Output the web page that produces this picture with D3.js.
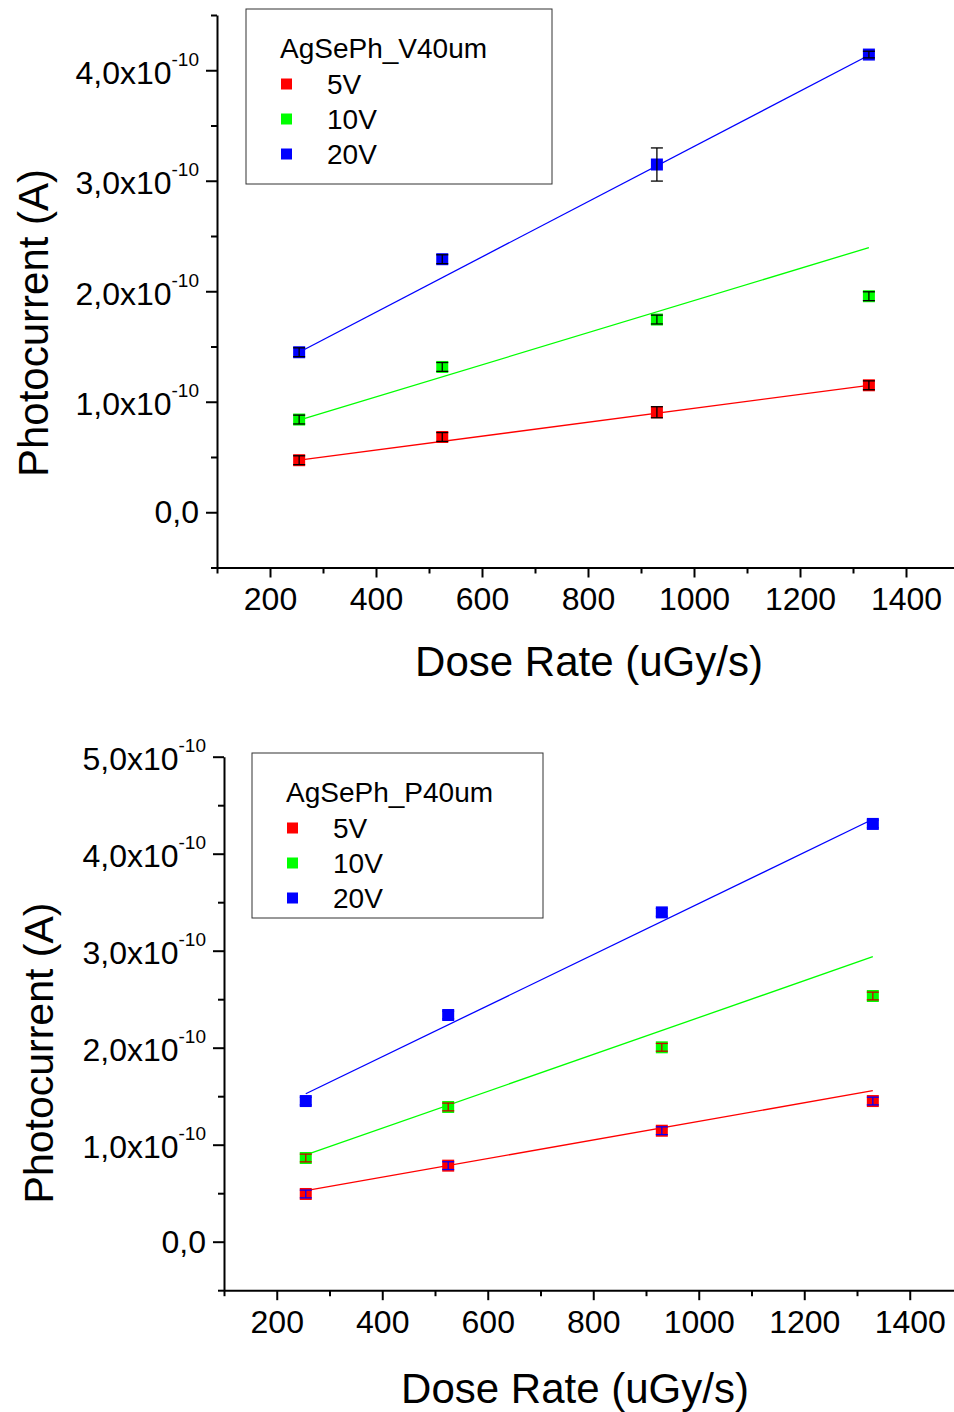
<!DOCTYPE html>
<html>
<head>
<meta charset="utf-8">
<script src="https://cdn.jsdelivr.net/npm/d3@7/dist/d3.min.js"></script>
<style>
  body { margin: 0; background: #fff; }
  svg { display: block; }
  svg text { font-family: "Liberation Sans", Arial, sans-serif; }
</style>
</head>
<body>
<svg id="chart" width="954" height="1412"></svg>
<script>
// dose rates (uGy/s), same for both samples
const doseRate = [255, 525, 930, 1330];
const fitRange = [255, 1330];
const series = ['5V', '10V', '20V'];
const colors = ['#ff0000', '#00ff00', '#0000ff'];

// photocurrent values in units of 1e-10 A
const v40_5V = [0.471, 0.681, 0.905, 1.149];
const v40_10V = [0.839, 1.315, 1.744, 1.955];
const v40_20V = [1.448, 2.290, 3.147, 4.142];
const v40_err5V = [0.04, 0.04, 0.05, 0.04];
const v40_err10V = [0.04, 0.04, 0.04, 0.04];
const v40_err20V = [0.04, 0.04, 0.15, 0.03];
const v40_fit5V = [0.471, 1.149];
const v40_fit10V = [0.833, 2.395];
const v40_fit20V = [1.448, 4.136];

const p40_5V = [0.492, 0.784, 1.144, 1.450];
const p40_10V = [0.863, 1.389, 2.004, 2.533];
const p40_20V = [1.450, 2.337, 3.395, 4.307];
const p40_err5V = [0.04, 0.04, 0.04, 0.04];
const p40_err10V = [0.04, 0.04, 0.04, 0.04];
const p40_err20V = [0.04, 0.04, 0.04, 0.04];
const p40_fit5V = [0.526, 1.557];
const p40_fit10V = [0.894, 2.938];
const p40_fit20V = [1.525, 4.355];

const xTicks = [200, 400, 600, 800, 1000, 1200, 1400];
const xMinor = [100, 300, 500, 700, 900, 1100, 1300, 1500];

const FONT = '"Liberation Sans", Arial, sans-serif';
const svg = d3.select('#chart');

function drawPanel(opts) {
  const x = d3.scaleLinear().domain([100, 1500]).range(opts.xRange);
  const y = d3.scaleLinear().domain(opts.yDomain).range(opts.yRange);
  const g = svg.append('g');

  // x axis
  const xAxis = g.append('g')
    .attr('transform', `translate(0,${opts.yRange[0]})`)
    .call(d3.axisBottom(x).tickValues(xTicks).tickSize(10).tickSizeOuter(0)
      .tickPadding(10).tickFormat(d3.format('d')));
  g.append('g')
    .attr('transform', `translate(0,${opts.yRange[0]})`)
    .call(d3.axisBottom(x).tickValues(xMinor).tickSize(6).tickSizeOuter(0).tickFormat(''))
    .select('.domain').remove();
  xAxis.attr('font-family', FONT).attr('font-size', 32);
  xAxis.selectAll('text').attr('fill', '#000');

  // y axis
  const yAxis = g.append('g')
    .attr('transform', `translate(${opts.xRange[0]},0)`)
    .call(d3.axisLeft(y).tickValues(opts.yTicks).tickSize(11).tickSizeOuter(0).tickPadding(7));
  g.append('g')
    .attr('transform', `translate(${opts.xRange[0]},0)`)
    .call(d3.axisLeft(y).tickValues(opts.yMinor).tickSize(6).tickSizeOuter(0).tickFormat(''))
    .select('.domain').remove();
  yAxis.attr('font-family', FONT).attr('font-size', 32);

  yAxis.selectAll('.tick text').each(function (d) {
    const t = d3.select(this);
    t.text(null).attr('fill', '#000').attr('dy', '0.4em');
    if (d === 0) {
      t.attr('dy', '0.33em').text('0,0');
    } else {
      t.append('tspan').text(d.toFixed(1).replace('.', ',') + 'x10');
      t.append('tspan').attr('font-size', 19).attr('dy', -18).text('-10');
    }
  });

  g.selectAll('.domain').attr('stroke-width', 2);
  g.selectAll('.tick line').attr('stroke-width', 2);

  // axis titles
  g.append('text')
    .attr('x', opts.xTitle[0]).attr('y', opts.xTitle[1])
    .attr('text-anchor', 'middle').attr('font-size', 42)
    .text('Dose Rate (uGy/s)');
  g.append('text')
    .attr('transform', `translate(${opts.yTitle[0]},${opts.yTitle[1]}) rotate(-90)`)
    .attr('text-anchor', 'middle').attr('font-size', opts.yTitleSize)
    .text('Photocurrent (A)');

  // fit lines
  opts.fits.forEach((f, i) => {
    g.append('line')
      .attr('x1', x(fitRange[0])).attr('y1', y(f[0]))
      .attr('x2', x(fitRange[1])).attr('y2', y(f[1]))
      .attr('stroke', colors[i]).attr('stroke-width', 1.3);
  });

  // points with error bars
  opts.values.forEach((vals, i) => {
    const pts = vals.map((v, j) => ({ x: doseRate[j], v, e: opts.errs[i][j] }));
    g.selectAll(null).data(pts).enter().append('rect')
      .attr('x', d => x(d.x) - 6).attr('y', d => y(d.v) - 6)
      .attr('width', 12).attr('height', 12)
      .attr('fill', colors[i]);
    const eb = g.selectAll(null).data(pts).enter().append('g')
      .attr('stroke', opts.errColors[i]).attr('stroke-width', 1.3);
    eb.append('line')
      .attr('x1', d => x(d.x)).attr('x2', d => x(d.x))
      .attr('y1', d => y(d.v + d.e)).attr('y2', d => y(d.v - d.e));
    eb.append('line')
      .attr('x1', d => x(d.x) - 6).attr('x2', d => x(d.x) + 6)
      .attr('y1', d => y(d.v + d.e)).attr('y2', d => y(d.v + d.e));
    eb.append('line')
      .attr('x1', d => x(d.x) - 6).attr('x2', d => x(d.x) + 6)
      .attr('y1', d => y(d.v - d.e)).attr('y2', d => y(d.v - d.e));
  });

  // legend
  const lg = g.append('g').attr('transform', `translate(${opts.legend.x},${opts.legend.y})`);
  lg.append('rect')
    .attr('width', opts.legend.w).attr('height', opts.legend.h)
    .attr('fill', '#fff').attr('stroke', '#333').attr('stroke-width', 1);
  lg.append('text')
    .attr('x', 34).attr('y', 49).attr('font-size', 28)
    .text(opts.legend.title);
  series.forEach((s, i) => {
    const cy = 75 + i * 35;
    lg.append('rect')
      .attr('x', 35).attr('y', cy - 5.5).attr('width', 11).attr('height', 11)
      .attr('fill', colors[i]);
    lg.append('text')
      .attr('x', 81).attr('y', cy + 10).attr('font-size', 28)
      .text(s);
  });
}

drawPanel({
  xRange: [217, 959],
  yDomain: [-0.5, 4.5],
  yRange: [567.5, 15],
  yTicks: [0, 1, 2, 3, 4],
  yMinor: [-0.5, 0.5, 1.5, 2.5, 3.5, 4.5],
  xTitle: [589, 676],
  yTitle: [48, 323],
  yTitleSize: 42,
  values: [v40_5V, v40_10V, v40_20V],
  errs: [v40_err5V, v40_err10V, v40_err20V],
  errColors: ['#000', '#000', '#000'],
  fits: [v40_fit5V, v40_fit10V, v40_fit20V],
  legend: { x: 246, y: 9, w: 306, h: 175, title: 'AgSePh_V40um' }
});

drawPanel({
  xRange: [224, 962.5],
  yDomain: [-0.5, 5.0],
  yRange: [1290.2, 756.7],
  yTicks: [0, 1, 2, 3, 4, 5],
  yMinor: [-0.5, 0.5, 1.5, 2.5, 3.5, 4.5],
  xTitle: [575, 1403],
  yTitle: [53, 1053],
  yTitleSize: 41,
  values: [p40_5V, p40_10V, p40_20V],
  errs: [p40_err5V, p40_err10V, p40_err20V],
  errColors: ['#0000ff', '#cc0000', '#0000ff'],
  fits: [p40_fit5V, p40_fit10V, p40_fit20V],
  legend: { x: 252, y: 753, w: 291, h: 165, title: 'AgSePh_P40um' }
});
</script>
</body>
</html>
